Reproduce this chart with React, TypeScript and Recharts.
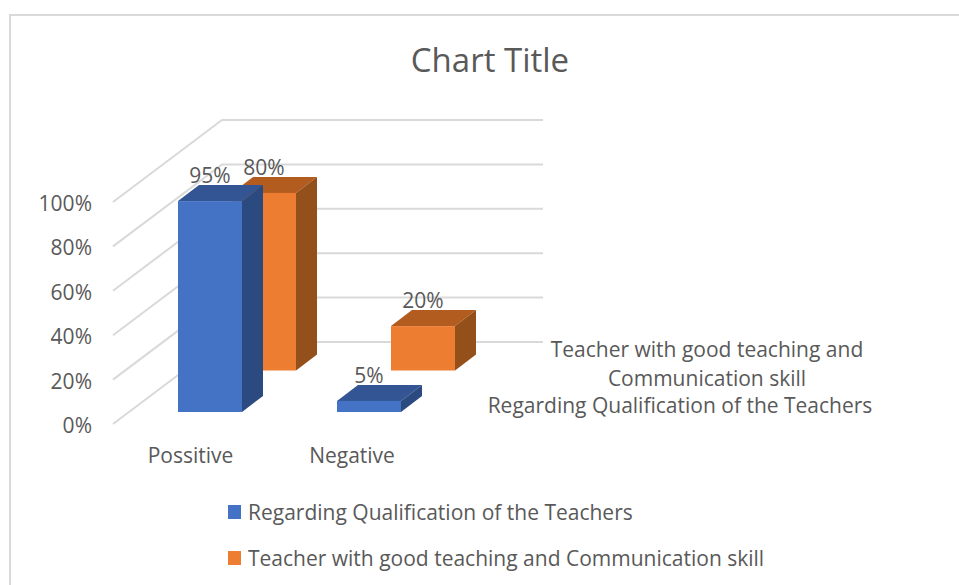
import { BarChart, Bar, XAxis, YAxis, Legend, LabelList, CartesianGrid } from "recharts";

const categories = ["Possitive", "Negative"];
const qualificationValues = [95, 5];
const communicationValues = [80, 20];
const yTicks = [0, 20, 40, 60, 80, 100];

const qualificationName = "Regarding Qualification of the Teachers";
const communicationName = "Teacher with good teaching and Communication skill";

const FONT = "'Open Sans', sans-serif";
const TEXT = "#595959";
const GRID = "#d9d9d9";

// oblique offsets of the fake 3D view
const DEPTH = { dx: 21, dy: -16 };
const WALL = { dx: 109, dy: -82, right: 543 };
const ROW_BLUE = { dx: 17, dy: -12 };
const ROW_ORANGE = { dx: 71, dy: -53.5 };
const CATEGORY_NUDGE = [-2, 0.5];

const chartData = categories.map((category, i) => ({
  category,
  qualification: qualificationValues[i],
  communication: communicationValues[i],
}));

function Box3D({ x, y, width, height, front, top, side, row }: any) {
  const l = x + row.dx;
  const r = l + width;
  const t = y + row.dy;
  const b = t + height;
  return (
    <g>
      <polygon
        points={`${l},${t} ${r},${t} ${r + DEPTH.dx},${t + DEPTH.dy} ${l + DEPTH.dx},${t + DEPTH.dy}`}
        fill={top}
      />
      <polygon
        points={`${r},${t} ${r + DEPTH.dx},${t + DEPTH.dy} ${r + DEPTH.dx},${b + DEPTH.dy} ${r},${b}`}
        fill={side}
      />
      <rect x={l} y={t} width={width} height={height} fill={front} />
    </g>
  );
}

function BarLabel({ x, y, width, value, row }: any) {
  return (
    <text
      x={x + width / 2 + row.dx}
      y={y + row.dy - 18}
      textAnchor="middle"
      fontFamily={FONT}
      fontSize={21}
      fill={TEXT}
    >
      {value}%
    </text>
  );
}

// each horizontal grid line becomes side wall + back wall
function WallLine({ x1, y1 }: any) {
  const wallX = x1 + WALL.dx;
  const wallY = y1 + WALL.dy;
  return (
    <polyline
      points={`${x1},${y1} ${wallX},${wallY} ${WALL.right},${wallY}`}
      fill="none"
      stroke={GRID}
      strokeWidth={2}
    />
  );
}

function ValueTick({ x, y, payload }: any) {
  return (
    <text
      x={x - 21}
      y={y + 9}
      textAnchor="end"
      fontFamily={FONT}
      fontSize={21}
      fill={TEXT}
    >
      {payload.value}%
    </text>
  );
}

function CategoryTick({ x, y, payload }: any) {
  const nudge = CATEGORY_NUDGE[categories.indexOf(payload.value)] ?? 0;
  return (
    <text
      x={x + nudge}
      y={y + 31}
      textAnchor="middle"
      fontFamily={FONT}
      fontSize={21}
      fill={TEXT}
    >
      {payload.value}
    </text>
  );
}

function LegendBox() {
  const rows = [
    { name: qualificationName, color: "#4472c4" },
    { name: communicationName, color: "#ed7d31" },
  ];
  return (
    <div style={{ position: "relative", height: 95 }}>
      {rows.map((row, i) => (
        <div
          key={row.name}
          style={{
            position: "absolute",
            left: 228,
            top: 7 + i * 46,
            display: "flex",
            alignItems: "center",
            whiteSpace: "nowrap",
            fontFamily: FONT,
            fontSize: 21,
            lineHeight: "30px",
            color: TEXT,
          }}
        >
          <span
            style={{
              width: 13,
              height: 14,
              marginRight: 7,
              background: row.color,
            }}
          />
          {row.name}
        </div>
      ))}
    </div>
  );
}

const floatText = (left: number, top: number, width: number, size: number) =>
  ({
    position: "absolute",
    left,
    top,
    width,
    textAlign: "center",
    fontFamily: FONT,
    fontSize: size,
    color: TEXT,
    whiteSpace: "nowrap",
  }) as const;

export default function App() {
  return (
    <div
      style={{
        position: "absolute",
        left: 0,
        top: 0,
        width: 959,
        height: 585,
        overflow: "hidden",
        background: "#fff",
      }}
    >
      <div
        style={{
          position: "absolute",
          left: 9,
          top: 14,
          width: 960,
          height: 600,
          border: `2px solid ${GRID}`,
        }}
      />
      <div style={floatText(290, 37, 400, 33)}>Chart Title</div>
      <div style={floatText(500, 335, 414, 21)}>Teacher with good teaching and</div>
      <div style={floatText(500, 364, 414, 21)}>Communication skill</div>
      <div style={floatText(480, 391, 400, 21)}>{qualificationName}</div>

      <div style={{ position: "absolute", left: 0, top: 0 }}>
        <BarChart
          width={959}
          height={585}
          data={chartData}
          margin={{ top: 202, right: 528, bottom: 0, left: 0 }}
          barSize={64}
          barGap={-64}
        >
          <CartesianGrid vertical={false} horizontal={(props: any) => <WallLine key={props.key ?? props.y1} {...props} />} />
          <YAxis
            type="number"
            domain={[0, 100]}
            ticks={yTicks}
            width={113}
            axisLine={false}
            tickLine={false}
            tick={<ValueTick />}
            tickSize={0}
            tickMargin={0}
          />
          <XAxis
            dataKey="category"
            height={66}
            axisLine={false}
            tickLine={false}
            tick={<CategoryTick />}
          />
          <Legend
            verticalAlign="bottom"
            height={95}
            content={<LegendBox />}
            wrapperStyle={{ left: 0, width: 959, bottom: 0 }}
          />
          <Bar
            dataKey="communication"
            name={communicationName}
            fill="#ed7d31"
            isAnimationActive={false}
            shape={(props: any) => (
              <Box3D {...props} front="#ed7d31" top="#b35c1f" side="#94501b" row={ROW_ORANGE} />
            )}
          >
            <LabelList
              dataKey="communication"
              content={(props: any) => <BarLabel {...props} row={ROW_ORANGE} />}
            />
          </Bar>
          <Bar
            dataKey="qualification"
            name={qualificationName}
            fill="#4472c4"
            isAnimationActive={false}
            shape={(props: any) => (
              <Box3D {...props} front="#4472c4" top="#335593" side="#2a4a80" row={ROW_BLUE} />
            )}
          >
            <LabelList
              dataKey="qualification"
              content={(props: any) => <BarLabel {...props} row={ROW_BLUE} />}
            />
          </Bar>
        </BarChart>
      </div>
    </div>
  );
}
